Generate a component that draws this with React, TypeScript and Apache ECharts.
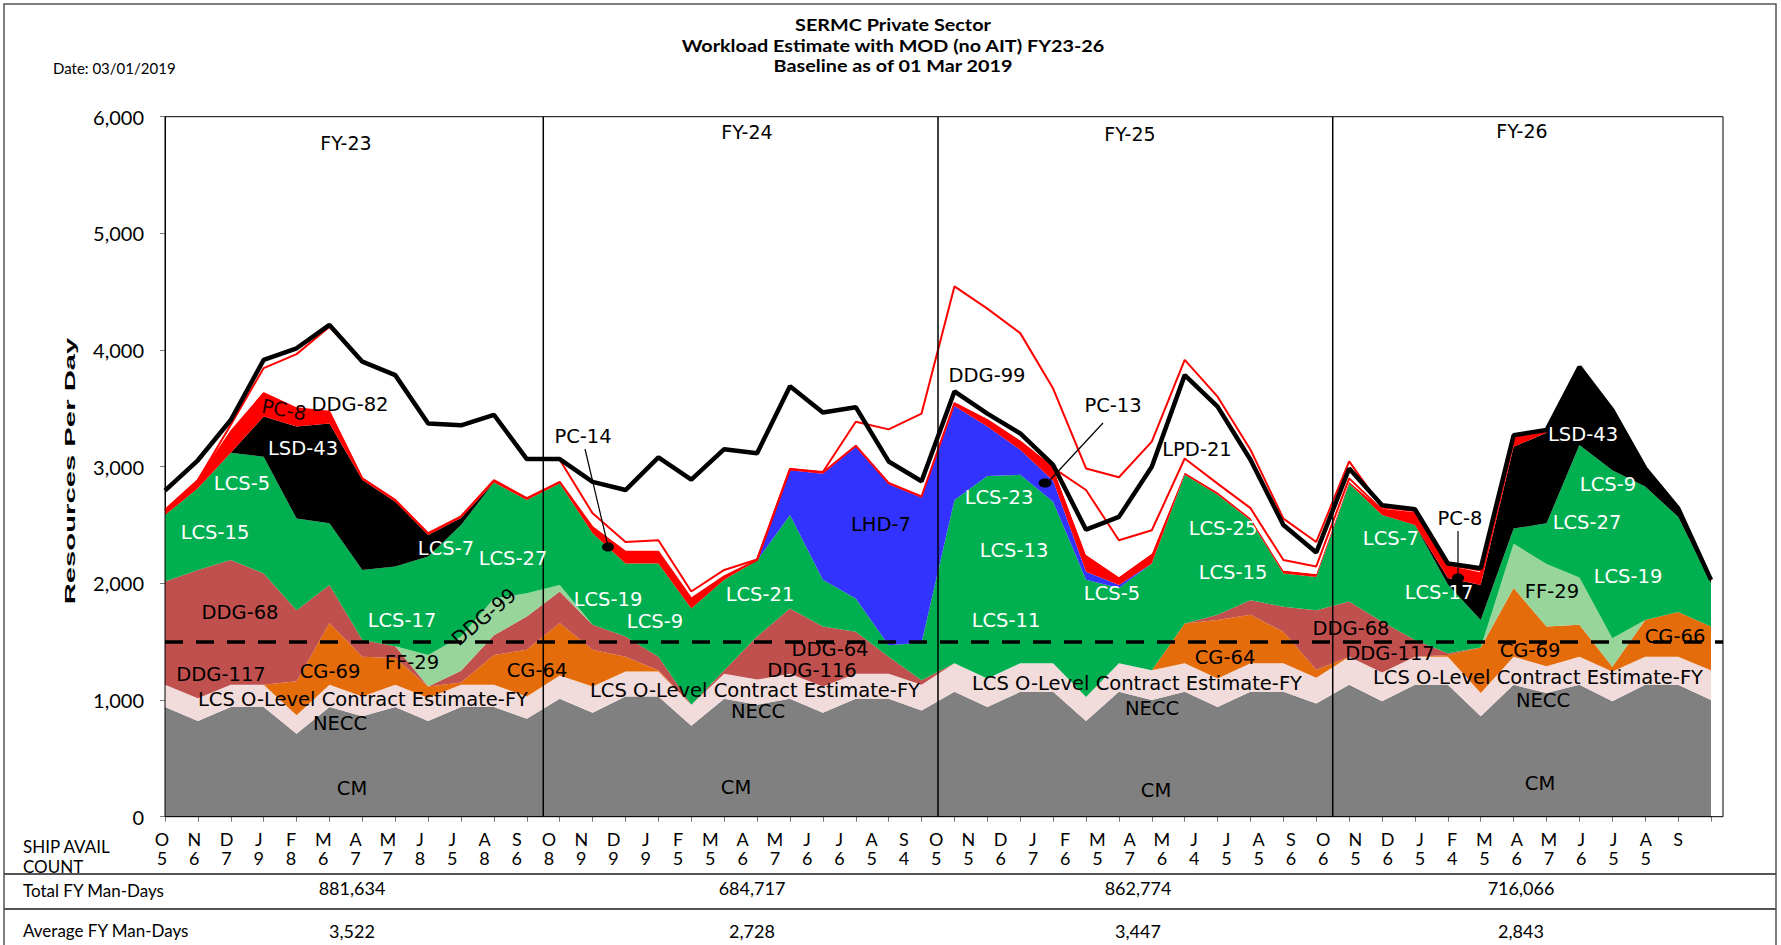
import React, { useEffect, useRef } from "react";
import * as echarts from "echarts";

// ---------- categories / table ----------
const monthLetters = [
  "O","N","D","J","F","M","A","M","J","J","A","S",
  "O","N","D","J","F","M","A","M","J","J","A","S",
  "O","N","D","J","F","M","A","M","J","J","A","S",
  "O","N","D","J","F","M","A","M","J","J","A","S",
];
const shipAvailCount = [
  "5","6","7","9","8","6","7","7","8","5","8","6",
  "8","9","9","9","5","5","6","7","6","6","5","4",
  "5","5","6","7","6","5","7","6","4","5","5","6",
  "6","5","6","5","4","5","6","7","6","5","5","",
];
const monthIds = monthLetters.map((m, i) => `${m}${i}`);
const fiscalYears = ["FY-23", "FY-24", "FY-25", "FY-26"];
const totalFyManDays = ["881,634", "684,717", "862,774", "716,066"];
const averageFyManDays = ["3,522", "2,728", "3,447", "2,843"];
const fyDividers = [11.5, 23.5, 35.5];
const thresholdLine = 1500;

// ---------- stacked series (resources per day, per month) ----------
const cm = [
  940, 820, 940, 940, 710, 940, 860, 940, 820, 940, 940, 840,
  1010, 890, 1030, 1030, 780, 1010, 960, 1010, 890, 1010, 1010, 910,
  1070, 940, 1070, 1070, 820, 1070, 1000, 1070, 940, 1070, 1070, 970,
  1130, 990, 1130, 1130, 860, 1130, 1060, 1130, 990, 1130, 1130, 1000,
];
const lcsOLevelNecc = [
  190, 195, 190, 190, 160, 190, 170, 190, 200, 190, 190, 190,
  200, 225, 215, 215, 180, 215, 215, 215, 225, 215, 215, 220,
  245, 245, 245, 245, 205, 245, 255, 245, 245, 245, 245, 220,
  240, 245, 240, 240, 200, 240, 230, 240, 255, 240, 240, 255,
];
const cg = [
  0, 0, 0, 0, 290, 530, 340, 230, 95, 20, 255, 400,
  450, 315, 125, 10, 0, 0, 0, 0, 0, 0, 0, 0,
  0, 0, 0, 0, 0, 0, 0, 340, 500, 415, 270, 70,
  0, 0, 0, 15, 390, 590, 340, 275, 40, 315, 385, 375,
];
const ddg = [
  885, 1100, 1070, 955, 610, 325, 145, 100, 0, 100, 170, 285,
  270, 215, 175, 115, 0, 30, 370, 560, 515, 360, 145, 40,
  0, 0, 0, 0, 0, 0, 0, 0, 45, 125, 215, 510,
  475, 435, 145, 15, 0, 0, 0, 0, 0, 0, 0, 0,
];
const ff29 = [
  0, 0, 0, 0, 0, 0, 0, 0, 270, 295, 315, 200,
  55, 0, 0, 0, 0, 0, 0, 0, 0, 0, 0, 0,
  0, 0, 0, 0, 0, 0, 0, 0, 0, 0, 0, 0,
  0, 0, 0, 0, 0, 380, 535, 405, 245, 0, 0, 0,
];
const lcs = [
  570, 700, 920, 1000, 785, 530, 600, 685, 845, 955, 995, 800,
  870, 785, 625, 800, 825, 775, 650, 800, 400, 285, 100, 320,
  1400, 1735, 1615, 1385, 1005, 645, 915, 1275, 1030, 685, 285, 285,
  1010, 915, 985, 590, 235, 130, 350, 1135, 1440, 1145, 815, 370,
];
const lhdDdgBlue = [
  0, 0, 0, 0, 0, 0, 0, 0, 0, 0, 0, 0,
  0, 0, 0, 0, 0, 0, 0, 385, 910, 1300, 1380, 1245,
  805, 425, 215, 180, 70, 25, 0, 0, 0, 0, 0, 0,
  0, 0, 0, 0, 0, 0, 0, 0, 0, 0, 0, 0,
];
const lsd43 = [
  0, 0, 0, 345, 790, 855, 770, 555, 185, 60, 0, 0,
  0, 0, 0, 0, 0, 0, 0, 0, 0, 0, 0, 0,
  0, 0, 0, 0, 0, 0, 0, 0, 0, 0, 0, 0,
  0, 0, 0, 55, 300, 700, 775, 670, 515, 155, 75, 30,
];
const pc = [
  45, 70, 180, 200, 155, 100, 15, 15, 15, 15, 20, 15,
  15, 50, 100, 100, 85, 30, 5, 10, 10, 10, 10, 10,
  25, 55, 70, 110, 145, 70, 85, 20, 20, 20, 25, 25,
  15, 45, 100, 100, 100, 75, 20, 0, 0, 0, 0, 0,
];
const whiteInner = [
  0, 0, 0, 0, 0, 0, 0, 0, 0, 0, 0, 0,
  0, 0, 0, 0, 0, 0, 0, 0, 0, 0, 0, 0,
  0, 0, 0, 0, 555, 315, 200, 120, 75, 85, 90, 65,
  30, 0, 0, 0, 0, 0, 0, 0, 0, 0, 0, 0,
];
const whiteOuter = [
  0, 0, 60, 215, 465, 730, 1000, 1070, 940, 780, 560, 335,
  190, 120, 85, 100, 60, 55, 5, 0, 5, 205, 460, 710,
  1000, 955, 930, 680, 185, 540, 760, 845, 745, 500, 355, 210,
  145, 20, 20, 15, 25, 15, 0, 0, 0, 0, 0, 0,
];
const totalWithMod = [
  2795, 3055, 3400, 3915, 4015, 4215, 3900, 3785, 3370, 3355, 3445, 3065,
  3065, 2870, 2800, 3080, 2890, 3150, 3115, 3690, 3465, 3510, 3045, 2875,
  3645, 3455, 3285, 3015, 2460, 2570, 3000, 3785, 3515, 3060, 2500, 2265,
  2985, 2670, 2635, 2170, 2130, 3270, 3315, 3855, 3485, 2985, 2645, 2030,
];

const SANS = "'DejaVu Sans', Verdana, sans-serif";
const CAL = "Lato, 'Open Sans', sans-serif";
const NARROW = "'Liberation Sans Narrow', 'Liberation Sans', Arial, sans-serif";

type Lbl = [string, number, number, string?, number?];
const areaLabels: Lbl[] = [
  // FY23
  ["PC-8", 284, 410, "#200000", -0.18],
  ["DDG-82", 350, 404, "#000"],
  ["LSD-43", 303, 448, "#fff"],
  ["LCS-5", 242, 483, "#fff"],
  ["LCS-15", 215, 532, "#fff"],
  ["LCS-7", 446, 548, "#fff"],
  ["LCS-27", 513, 558, "#fff"],
  ["DDG-68", 240, 612, "#000"],
  ["LCS-17", 402, 620, "#fff"],
  ["DDG-99", 484, 617, "#000", 0.7],
  ["FF-29", 412, 662, "#000"],
  ["DDG-117", 221, 674, "#000"],
  ["CG-69", 330, 671, "#000"],
  ["CG-64", 537, 670, "#000"],
  ["LCS O-Level Contract Estimate-FY", 363, 699, "#000"],
  ["NECC", 340, 723, "#000"],
  ["CM", 352, 788, "#000"],
  // FY24
  ["PC-14", 583, 436, "#000"],
  ["LCS-19", 608, 599, "#fff"],
  ["LCS-9", 655, 621, "#fff"],
  ["LCS-21", 760, 594, "#fff"],
  ["LHD-7", 881, 524, "#000"],
  ["DDG-64", 830, 649, "#000"],
  ["DDG-116", 812, 670, "#000"],
  ["LCS O-Level Contract Estimate-FY", 755, 690, "#000"],
  ["NECC", 758, 711, "#000"],
  ["CM", 736, 787, "#000"],
  // FY25
  ["DDG-99", 987, 375, "#000"],
  ["PC-13", 1113, 405, "#000"],
  ["LPD-21", 1197, 449, "#000"],
  ["LCS-23", 999, 497, "#fff"],
  ["LCS-13", 1014, 550, "#fff"],
  ["LCS-11", 1006, 620, "#fff"],
  ["LCS-5", 1112, 593, "#fff"],
  ["LCS-25", 1223, 528, "#fff"],
  ["LCS-15", 1233, 572, "#fff"],
  ["CG-64", 1225, 657, "#000"],
  ["DDG-68", 1351, 628, "#000"],
  ["LCS O-Level Contract Estimate-FY", 1137, 683, "#000"],
  ["NECC", 1152, 708, "#000"],
  ["CM", 1156, 790, "#000"],
  // FY26
  ["DDG-117", 1390, 653, "#000"],
  ["LCS-7", 1391, 538, "#fff"],
  ["LCS-17", 1439, 592, "#fff"],
  ["PC-8", 1460, 518, "#000"],
  ["LSD-43", 1583, 434, "#fff"],
  ["LCS-9", 1608, 484, "#fff"],
  ["LCS-27", 1587, 522, "#fff"],
  ["LCS-19", 1628, 576, "#fff"],
  ["FF-29", 1552, 591, "#000"],
  ["CG-69", 1530, 650, "#000"],
  ["CG-66", 1675, 636, "#000"],
  ["LCS O-Level Contract Estimate-FY", 1538, 677, "#000"],
  ["NECC", 1543, 700, "#000"],
  ["CM", 1540, 783, "#000"],
];

const fyLabelPos: [number, number][] = [[346, 143], [747, 132], [1130, 134], [1522, 131]];
const fyCenters = [352, 752, 1138, 1521];

// plot frame (pixels)
const PL = 165, PT = 116.7, PR = 1723, PB = 816.7, LAST_X = 1711;

function txt(text: string, x: number, y: number, font: string, fill = "#000", align = "center", rotation = 0, extra: any = {}) {
  return {
    type: "text",
    x,
    y,
    rotation,
    z: 100,
    silent: true,
    ...extra,
    style: { text, fill, font, align, verticalAlign: "middle" },
  };
}

export default function App() {
  const ref = useRef<HTMLDivElement>(null);
  useEffect(() => {
    const chart = echarts.init(ref.current!, null, { renderer: "svg" });

    const area = (name: string, data: number[], color: string, line?: any) => ({
      name,
      type: "line",
      stack: "workload",
      data,
      showSymbol: false,
      symbol: "none",
      lineStyle: line || { width: 0, color },
      itemStyle: { color },
      areaStyle: { color, opacity: 1 },
      silent: true,
      z: 2,
    });

    const graphic: any[] = [];
    // outer frame
    graphic.push({ type: "rect", shape: { x: 4, y: 4, width: 1772, height: 960 }, style: { fill: "none", stroke: "#555", lineWidth: 1.5 }, z: 1 });
    // plot frame
    graphic.push({ type: "rect", shape: { x: PL, y: PT, width: PR - PL, height: PB - PT }, style: { fill: "none", stroke: "#000", lineWidth: 1 }, z: 50 });
    // table lines
    graphic.push({ type: "line", shape: { x1: 4, y1: 874, x2: 1776, y2: 874 }, style: { stroke: "#555", lineWidth: 2 }, z: 1 });
    graphic.push({ type: "line", shape: { x1: 4, y1: 909, x2: 1776, y2: 909 }, style: { stroke: "#555", lineWidth: 2 }, z: 1 });
    // titles
    graphic.push(txt("SERMC Private Sector", 893, 25, `bold 16.5px ${CAL}`, "#000", "center", 0, { scaleX: 1.2 }));
    graphic.push(txt("Workload Estimate with MOD (no AIT) FY23-26", 893, 45.5, `bold 16.5px ${CAL}`, "#000", "center", 0, { scaleX: 1.2 }));
    graphic.push(txt("Baseline as of 01 Mar 2019", 893, 66, `bold 16.5px ${CAL}`, "#000", "center", 0, { scaleX: 1.2 }));
    graphic.push(txt("Date: 03/01/2019", 53, 68, `15px ${CAL}`, "#000", "left"));
    // y axis title (condensed, stretched as in the original)
    graphic.push(txt("Resources Per Day", 70, 471, `bold 15px ${NARROW}`, "#000", "center", Math.PI / 2, { scaleX: 1.95 }));
    // FY labels
    fiscalYears.forEach((fy, k) => graphic.push(txt(fy, fyLabelPos[k][0], fyLabelPos[k][1], `19px ${SANS}`)));
    // area labels
    areaLabels.forEach(([t, x, y, c, r]) => graphic.push(txt(t, x, y, `19.5px ${SANS}`, c || "#000", "center", r || 0)));
    // pointers
    graphic.push({ type: "line", shape: { x1: 585, y1: 449, x2: 608, y2: 546 }, style: { stroke: "#000", lineWidth: 1.2 }, z: 101 });
    graphic.push({ type: "ellipse", shape: { cx: 608, cy: 547, rx: 6, ry: 4.5 }, style: { fill: "#000" }, z: 101 });
    graphic.push({ type: "line", shape: { x1: 1103, y1: 423, x2: 1050, y2: 480 }, style: { stroke: "#000", lineWidth: 1.2 }, z: 101 });
    graphic.push({ type: "ellipse", shape: { cx: 1045, cy: 483, rx: 6.5, ry: 4.5 }, style: { fill: "#000" }, z: 101 });
    graphic.push({ type: "line", shape: { x1: 1458, y1: 531, x2: 1458, y2: 576 }, style: { stroke: "#000", lineWidth: 1.2 }, z: 101 });
    graphic.push({ type: "ellipse", shape: { cx: 1458, cy: 578, rx: 6, ry: 4.5 }, style: { fill: "#000" }, z: 101 });
    // table texts
    graphic.push(txt("SHIP AVAIL", 23, 846, `17px ${CAL}`, "#000", "left"));
    graphic.push(txt("COUNT", 23, 866, `17px ${CAL}`, "#000", "left"));
    graphic.push(txt("Total FY Man-Days", 23, 890, `17px ${CAL}`, "#000", "left"));
    graphic.push(txt("Average FY Man-Days", 23, 930, `17px ${CAL}`, "#000", "left"));
    totalFyManDays.forEach((v, k) => graphic.push(txt(v, fyCenters[k], 888, `18px ${CAL}`)));
    averageFyManDays.forEach((v, k) => graphic.push(txt(v, fyCenters[k], 931, `18px ${CAL}`)));

    const option: any = {
      animation: false,
      backgroundColor: "#fff",
      grid: [
        { left: PL, right: 1781 - LAST_X, top: PT, bottom: 945 - PB, show: false },
        { left: 162, right: 103, top: 815, height: 10, show: false },
      ],
      xAxis: [
        {
          type: "category",
          gridIndex: 0,
          data: monthIds,
          boundaryGap: false,
          axisLine: { show: true, lineStyle: { color: "#000", width: 1 } },
          axisTick: { show: true, length: 5, interval: 0, lineStyle: { color: "#777" } },
          axisLabel: { show: false },
          splitLine: { show: false },
        },
        {
          type: "category",
          gridIndex: 1,
          data: monthLetters,
          boundaryGap: false,
          axisLine: { show: false },
          axisTick: { show: false },
          axisLabel: {
            interval: 0,
            margin: 4,
            fontFamily: CAL,
            fontSize: 18,
            lineHeight: 19,
            color: "#000",
            formatter: (v: string, i: number) => `${v}\n${shipAvailCount[i]}`,
          },
        },
      ],
      yAxis: [
        {
          type: "value",
          gridIndex: 0,
          min: 0,
          max: 6000,
          interval: 1000,
          axisLine: { show: true, lineStyle: { color: "#000", width: 1 } },
          axisTick: { show: true, length: 5, lineStyle: { color: "#777" } },
          axisLabel: {
            margin: 21,
            fontFamily: CAL,
            fontSize: 20,
            color: "#000",
            formatter: (v: number) => v.toLocaleString("en-US"),
          },
          splitLine: { show: false },
        },
        { type: "value", gridIndex: 1, show: false },
      ],
      graphic,
      series: [
        area("CM", cm, "#808080"),
        area("LCS O-Level Contract Estimate-FY / NECC", lcsOLevelNecc, "#f2dcdb"),
        area("CG", cg, "#e46c0a"),
        area("DDG", ddg, "#c0504d"),
        area("FF-29", ff29, "#97d59b"),
        area("LCS", lcs, "#00b050"),
        area("LHD-7 / DDG-99", lhdDdgBlue, "#3333ff"),
        area("LSD-43", lsd43, "#000000"),
        area("PC", pc, "#ff0000"),
        area("DDG-82 / LPD-21 (inner)", whiteInner, "#ffffff", { width: 2, color: "#ff0000" }),
        area("DDG-82 / LPD-21 (outer)", whiteOuter, "#ffffff", { width: 2, color: "#ff0000" }),
        {
          name: "Total with MOD",
          type: "line",
          data: totalWithMod,
          showSymbol: false,
          symbol: "none",
          lineStyle: { color: "#000", width: 4.5 },
          itemStyle: { color: "#000" },
          silent: true,
          z: 5,
          markLine: {
            silent: true,
            symbol: "none",
            label: { show: false },
            animation: false,
            data: [
              [
                { coord: [0, thresholdLine], x: PL },
                { coord: [47, thresholdLine], x: PR },
              ].map((p) => ({ ...p, lineStyle: { type: [18, 13], color: "#000", width: 3.5 } })),
            ],
          },
        },
      ],
    };
    chart.setOption(option);

    // fiscal-year dividers, positioned half-way between Sep and Oct through the axis scale
    const px = (i: number) => chart.convertToPixel({ xAxisIndex: 0 }, monthIds[i]) as number;
    const yTop = chart.convertToPixel({ yAxisIndex: 0 }, 6000) as number;
    const yBot = chart.convertToPixel({ yAxisIndex: 0 }, 0) as number;
    const dividerEls = fyDividers.map((d) => {
      const x = (px(Math.floor(d)) + px(Math.ceil(d))) / 2;
      return { type: "line", shape: { x1: x, y1: yTop, x2: x, y2: yBot }, style: { stroke: "#000", lineWidth: 1.5 }, z: 60, silent: true };
    });
    chart.setOption({ graphic: [...graphic, ...dividerEls] });

    return () => chart.dispose();
  }, []);
  return <div ref={ref} style={{ position: "fixed", left: 0, top: 0, width: 1781, height: 945, background: "#fff" }} />;
}
